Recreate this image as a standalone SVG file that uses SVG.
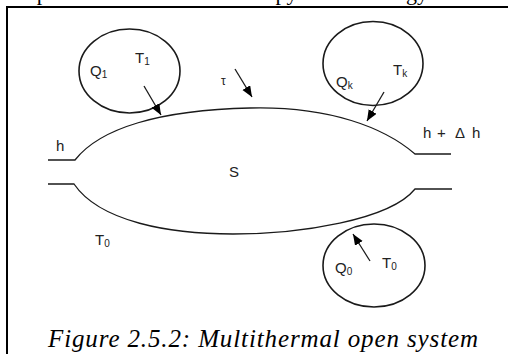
<svg xmlns="http://www.w3.org/2000/svg" width="508" height="354" viewBox="0 0 508 354">
<style>
.ln{fill:none;stroke:#1a1a1a;stroke-width:1.3}
.res{fill:none;stroke:#1a1a1a;stroke-width:1.6}
.lb{font-family:"Liberation Sans",Arial,sans-serif;font-size:15px;fill:#222}
.sub{font-size:10px}
.cap{font-family:"Liberation Serif","Times New Roman",serif;font-style:italic;font-size:25px;fill:#000}
.top{font-family:"Liberation Serif","Times New Roman",serif;font-size:22px;fill:#000}
</style>
<defs>
<marker id="ah" markerUnits="userSpaceOnUse" markerWidth="12" markerHeight="10" refX="11" refY="4.5" orient="auto">
<path d="M0,0 L11,4.5 L0,9 Z" fill="#000"/>
</marker>
</defs>
<rect width="508" height="354" fill="#fff"/>
<text class="top" x="432" y="0" text-anchor="end">peculiar rather of co-enthalpy and co-energy.</text>
<path d="M7,354 V7 H508" fill="none" stroke="#000" stroke-width="2"/>
<g id="system">
<path class="ln" d="M48,160 H75 C100,128 160,110 250,108 C330,106 385,128 415,154 H451"/>
<path class="ln" d="M48,184 H74 C100,222 170,234 233,234 C300,234 390,220 415,189 H452"/>
<text class="lb" x="56" y="151">h</text>
<text class="lb" y="138"><tspan x="423">h</tspan><tspan x="437">+</tspan><tspan x="455">Δ</tspan><tspan x="472">h</tspan></text>
<text class="lb" x="229" y="177">S</text>
<text class="lb" x="221" y="85" style="font-size:12px">τ</text>
<text class="lb" x="95" y="245">T<tspan class="sub" dy="2">0</tspan></text>
</g>
<g id="reservoir-1">
<ellipse class="res" cx="129.5" cy="71" rx="50.5" ry="42"/>
<text class="lb" x="90" y="76">Q<tspan class="sub" dy="2">1</tspan></text>
<text class="lb" x="135" y="63">T<tspan class="sub" dy="2">1</tspan></text>
</g>
<g id="reservoir-k">
<ellipse class="res" cx="373" cy="63.5" rx="50" ry="42"/>
<text class="lb" x="336" y="87">Q<tspan class="sub" dy="2">k</tspan></text>
<text class="lb" x="393" y="75">T<tspan class="sub" dy="2">k</tspan></text>
</g>
<g id="reservoir-0">
<ellipse class="res" cx="374" cy="265.5" rx="51" ry="41.5"/>
<text class="lb" x="335" y="273">Q<tspan class="sub" dy="2">0</tspan></text>
<text class="lb" x="382" y="268">T<tspan class="sub" dy="2">0</tspan></text>
</g>
<g id="connectors">
<line class="ln" x1="235" y1="69" x2="252" y2="97" stroke-width="1.6" marker-end="url(#ah)"/>
<line class="ln" x1="144" y1="86" x2="161" y2="115" stroke-width="1.6" marker-end="url(#ah)"/>
<line class="ln" x1="384" y1="92" x2="367" y2="121" stroke-width="1.6" marker-end="url(#ah)"/>
<line class="ln" x1="370" y1="261" x2="353" y2="234" stroke-width="1.6" marker-end="url(#ah)"/>
</g>
<text class="cap" x="48" y="347" textLength="430" lengthAdjust="spacing">Figure 2.5.2: Multithermal open system</text>
</svg>
